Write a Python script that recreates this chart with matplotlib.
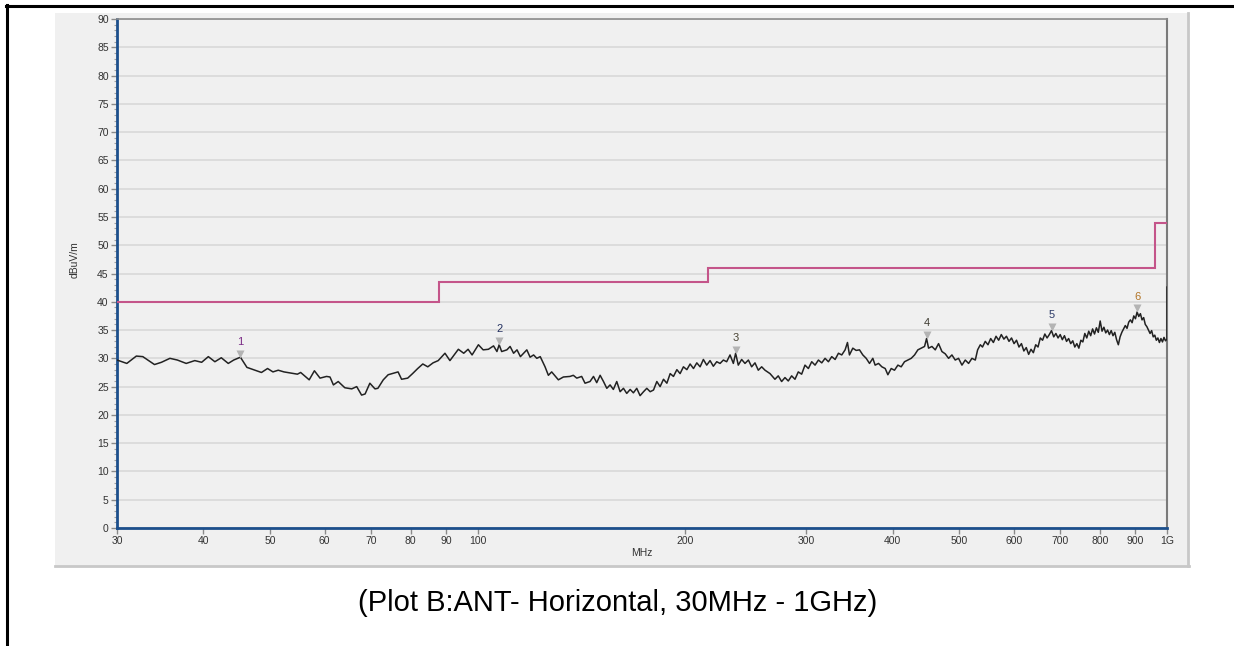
import numpy as np
import matplotlib
matplotlib.use("Agg")
import matplotlib.pyplot as plt
from matplotlib.lines import Line2D
from matplotlib.patches import Rectangle
from matplotlib.transforms import offset_copy

plt.rcParams['font.family'] = ['Liberation Sans', 'DejaVu Sans']

# ---------------------------------------------
# Data
# ---------------------------------------------

# FCC class B limit (dBuV/m), step edges in MHz
limit_edges = [30, 88, 216, 960, 1000]
limit_levels = [40, 43.5, 46, 54]

# measured trace, 30 - 536 MHz (MHz, dBuV/m)
freq_lo = [
    30.0, 31.0, 32.0, 32.7, 34.0, 34.8, 35.8, 36.7, 37.8, 38.9, 39.8, 40.7,
    41.6, 42.5, 43.5, 44.3, 45.3, 46.3, 48.6, 49.6, 50.5, 51.4, 52.4, 54.8,
    55.4, 57.0, 58.0, 59.1, 60.4, 61.1, 61.8, 62.8, 64.2, 65.7, 66.8, 67.9,
    68.7, 69.8, 71.0, 71.7, 73.0, 74.2, 76.7, 77.6, 79.2, 80.5, 81.9, 83.3,
    84.7, 86.2, 87.7, 89.7, 91.2, 93.8, 95.5, 96.9, 98.2, 100.3, 101.9, 103.7,
    105.5, 106.7, 107.5, 108.4, 110.3, 111.5, 112.8, 114.1, 115.4, 117.9, 119.2, 120.6,
    121.9, 123.3, 125.3, 126.7, 128.1, 131.0, 133.2, 136.2, 137.7, 139.3, 141.6, 143.2,
    145.6, 147.3, 148.9, 150.6, 152.3, 154.0, 155.7, 157.4, 159.2, 161.0, 162.8, 164.6,
    166.5, 168.3, 170.2, 172.1, 174.1, 176.0, 178.0, 180.0, 182.0, 184.0, 186.1, 188.2,
    190.3, 192.4, 194.6, 196.7, 198.9, 201.2, 203.4, 205.7, 208.0, 210.3, 212.6, 215.0,
    217.4, 219.8, 222.3, 224.8, 227.3, 229.8, 232.4, 235.0, 236.8, 238.9, 241.6, 244.3,
    247.1, 249.8, 252.6, 255.4, 258.3, 261.2, 265.6, 270.0, 273.0, 276.1, 279.2, 282.3,
    285.5, 288.7, 291.9, 295.2, 298.5, 301.9, 305.3, 308.7, 312.2, 315.7, 319.2, 322.8,
    326.4, 330.1, 333.8, 337.5, 341.3, 344.0, 346.3, 350.2, 354.1, 358.1, 362.1, 366.2,
    370.3, 374.4, 377.3, 381.6, 385.9, 390.2, 393.7, 398.1, 402.5, 407.1, 411.6, 416.2,
    420.9, 425.6, 430.4, 435.2, 440.1, 445.0, 448.0, 451.0, 456.1, 461.2, 466.3, 471.6,
    476.8, 482.2, 487.6, 493.0, 498.5, 504.2, 509.8, 515.5, 521.3, 527.2, 531.3, 536.1,
]
level_lo = [
    29.7, 29.1, 30.4, 30.3, 28.9, 29.3, 30.0, 29.7, 29.1, 29.6, 29.3, 30.3,
    29.4, 30.1, 29.1, 29.7, 30.2, 28.4, 27.5, 28.2, 27.6, 27.9, 27.6, 27.2,
    27.5, 26.2, 27.8, 26.5, 26.8, 26.7, 25.3, 25.9, 24.8, 24.6, 25.0, 23.5,
    23.7, 25.6, 24.6, 24.7, 26.2, 27.1, 27.6, 26.3, 26.5, 27.3, 28.2, 29.0,
    28.5, 29.2, 29.6, 30.9, 29.6, 31.6, 30.9, 31.6, 30.6, 32.4, 31.5, 31.6,
    32.2, 31.2, 32.4, 31.2, 31.5, 32.1, 30.9, 31.5, 30.3, 31.5, 30.2, 30.6,
    30.0, 30.3, 28.5, 27.0, 27.6, 26.2, 26.7, 26.8, 27.0, 26.5, 26.8, 25.6,
    25.9, 26.8, 25.7, 27.0, 25.9, 24.7, 25.3, 24.5, 25.9, 24.1, 24.7, 23.8,
    24.5, 23.9, 24.7, 23.4, 24.1, 24.7, 24.1, 24.4, 25.9, 25.0, 26.3, 25.6,
    27.3, 26.8, 28.0, 27.3, 28.5, 28.0, 29.0, 28.2, 29.2, 28.5, 29.8, 28.8,
    29.6, 28.6, 29.4, 29.1, 29.7, 29.4, 30.6, 29.1, 30.9, 28.8, 29.8, 29.1,
    29.7, 28.5, 29.2, 27.9, 28.5, 27.9, 27.3, 26.3, 26.9, 25.9, 26.6, 26.0,
    26.9, 26.3, 27.6, 27.2, 28.8, 28.2, 29.4, 28.8, 29.7, 29.2, 30.0, 29.4,
    30.3, 29.8, 30.9, 30.6, 31.5, 32.8, 30.6, 31.8, 31.4, 31.5, 30.6, 30.0,
    29.1, 30.0, 28.8, 29.1, 28.5, 28.2, 27.1, 28.2, 27.9, 28.8, 28.5, 29.4,
    29.7, 30.0, 30.6, 31.5, 31.8, 32.1, 33.5, 31.8, 32.1, 31.5, 32.6, 31.2,
    30.8, 30.0, 30.6, 29.7, 30.0, 28.8, 29.7, 29.1, 30.0, 29.7, 31.5, 32.4,
]

# measured trace, 540 - 1000 MHz in 5 MHz steps
level_hi = [
    32.0, 33.0, 32.4, 33.5, 32.8, 33.9, 33.2, 34.2, 33.4, 33.9,
    33.0, 33.6, 32.6, 33.2, 32.0, 32.6, 31.3, 31.9, 30.7, 31.6,
    31.0, 32.4, 32.0, 33.6, 33.2, 34.3, 33.6, 34.2, 34.9, 33.8,
    34.4, 33.6, 34.2, 33.3, 34.0, 33.0, 33.5, 32.6, 33.1, 32.0,
    32.6, 31.8, 33.2, 32.9, 34.4, 33.6, 34.8, 34.0, 35.2, 34.3,
    35.4, 34.6, 36.6, 34.8, 35.5, 34.5, 35.0, 34.2, 34.9, 34.0,
    34.6, 33.3, 32.4, 33.8, 34.6, 35.2, 35.8, 35.3, 36.4, 36.8,
    36.3, 37.5, 37.0, 38.2, 37.4, 37.9, 36.8, 37.2, 36.0, 35.6,
    35.0, 34.4, 34.9, 33.8, 34.1, 33.2, 33.6, 32.8, 33.5, 32.9,
    33.7, 33.1, 33.4,
]
freq_hi = 540 + 5 * np.arange(len(level_hi))

# last sweep point at 1 GHz jumps up
end_freq = 1000
end_level = 42.6

# peak markers
marker_freq = [45.3, 107.5, 236.8, 448.0, 680.0, 905.0]
marker_level = [30.2, 32.4, 30.9, 33.5, 34.9, 38.2]
marker_colors = ['#7a2a86', '#233060', '#4a4535', '#3d3a30', '#2c3a68', '#b27426']

# axis ticks
x_ticks = [30, 40, 50, 60, 70, 80, 90, 100, 200, 300, 400, 500, 600, 700, 800, 900, 1000]
x_tick_labels = ['30', '40', '50', '60', '70', '80', '90', '100', '200', '300',
                 '400', '500', '600', '700', '800', '900', '1G']
y_ticks = np.arange(0, 91, 5)

caption = "(Plot B:ANT- Horizontal, 30MHz - 1GHz)"

# ---------------------------------------------
# Figure
# ---------------------------------------------
W, H = 1234, 646
fig = plt.figure(figsize=(W / 100, H / 100), dpi=100)
fig.patch.set_facecolor('white')

# grey chart panel with light shadow edges
fig.patches.append(Rectangle((55 / W, 1 - 566 / H), (1188 - 55) / W, (566 - 13) / H,
                             transform=fig.transFigure, facecolor='#f0f0f0',
                             edgecolor='none', zorder=-10))
fig.add_artist(Line2D([1188 / W, 1188 / W], [1 - 566 / H, 1 - 13 / H],
                      color='#c8c8c8', lw=2, zorder=-9))
fig.add_artist(Line2D([55 / W, 1189 / W], [1 - 566 / H, 1 - 566 / H],
                      color='#c8c8c8', lw=2, zorder=-9))

# table cell border (left and top)
fig.add_artist(Line2D([7 / W, 7 / W], [0, 1 - 5 / H], color='black', lw=2.2, zorder=-9))
fig.add_artist(Line2D([6 / W, 1], [1 - 6 / H, 1 - 6 / H], color='black', lw=2.2, zorder=-9))

ax = fig.add_axes([117 / W, 1 - 528 / H, 1050 / W, 509 / H])
ax.set_zorder(1)
ax.set_facecolor('#f0f0f0')
ax.set_xscale('log')
ax.set_xlim(30, 1000)
ax.set_ylim(0, 90)

# grid
ax.set_axisbelow(True)
ax.yaxis.grid(True, color='#d8d8d8', lw=1.2)

# limit line
ax.stairs(limit_levels, limit_edges, baseline=None, color='#c4558a', lw=1.5, zorder=3)

# trace
trace_f = np.concatenate([freq_lo, freq_hi, [end_freq]])
trace_l = np.concatenate([level_lo, level_hi, [end_level]])
ax.plot(trace_f, trace_l, color='#222222', lw=1.1, zorder=4)

# markers
tri_trans = offset_copy(ax.transData, fig=fig, x=0, y=2.6, units='points')
ax.plot(marker_freq, marker_level, 'v', ms=5.5, color='#b4b4b4', mec='none',
        transform=tri_trans, zorder=5)
for i, (mf, ml) in enumerate(zip(marker_freq, marker_level)):
    ax.annotate(str(i + 1), (mf, ml), xytext=(0, 11), textcoords='offset points',
                ha='center', va='center', fontsize=8, color=marker_colors[i], zorder=6)

# ticks
ax.set_xticks(x_ticks)
ax.set_xticklabels(x_tick_labels)
ax.set_xticks([], minor=True)
ax.set_yticks(y_ticks)
ax.set_yticks(np.arange(0, 91, 1), minor=True)
ax.tick_params(axis='both', which='major', direction='out', length=4, width=1,
               color='#8a8a8a', labelsize=7.5, labelcolor='#333333', pad=2)
ax.tick_params(axis='y', which='minor', direction='out', length=2, width=0.8,
               color='#a0a0a0')

# spines
for side in ['left', 'bottom']:
    ax.spines[side].set_color('#1c4f8c')
    ax.spines[side].set_linewidth(2)
ax.spines['top'].set_color('#8c8c8c')
ax.spines['top'].set_linewidth(1.2)
ax.spines['right'].set_color('#7a7a7a')
ax.spines['right'].set_linewidth(1.5)

ax.set_xlabel('MHz', fontsize=7.5, color='#333333', labelpad=1.5)
ax.set_ylabel('dBuV/m', fontsize=7.5, color='#333333')
ax.yaxis.set_label_coords(-0.036, 0.527)

fig.text(618 / W, 1 - 603 / H, caption, ha='center', va='center',
         fontsize=21, color='black')

fig.savefig('out.png', dpi=100, facecolor='white')
